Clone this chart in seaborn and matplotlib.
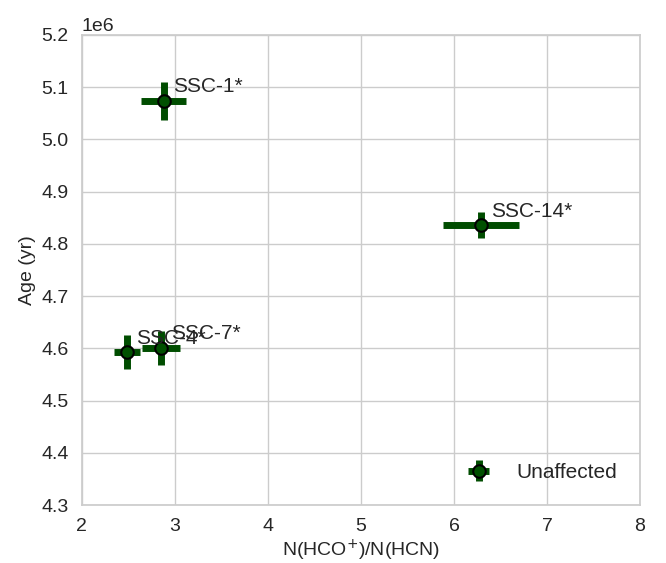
import numpy as np
import matplotlib
matplotlib.use('Agg')
import matplotlib.pyplot as plt
import seaborn as sns

# data
labels = ['SSC-1*', 'SSC-4*', 'SSC-7*', 'SSC-14*']
ratio = [2.88, 2.48, 2.85, 6.29]
ratio_err = [0.24, 0.14, 0.20, 0.41]
age = [5.074e6, 4.593e6, 4.601e6, 4.836e6]
age_err = [0.036e6, 0.033e6, 0.033e6, 0.025e6]

sns.set_theme(style='whitegrid')
plt.rcParams['font.family'] = ['Liberation Sans', 'DejaVu Sans']
plt.rcParams['axes.edgecolor'] = '#cccccc'
plt.rcParams['grid.color'] = '#cccccc'

fig, ax = plt.subplots(figsize=(6.66, 5.63), dpi=100)
ax.errorbar(ratio, age, xerr=ratio_err, yerr=age_err, fmt='o', color='#004d00',
            ecolor='#004d00', elinewidth=5, markersize=9, markerfacecolor='#005000',
            markeredgecolor='black', markeredgewidth=1.5, capsize=0, label='Unaffected')
for lab, x, y in zip(labels, ratio, age):
    ax.annotate(lab, (x, y), xytext=(7, 6), textcoords='offset points', fontsize=15, color='#262626')

ax.set_xlim(2, 8)
ax.set_ylim(4.3e6, 5.2e6)
ax.set_xlabel('N(HCO$^{+}$)/N(HCN)', fontsize=14, labelpad=2)
ax.set_ylabel('Age (yr)', fontsize=14)
ax.tick_params(labelsize=14)
ax.yaxis.get_offset_text().set_fontsize(14)
ax.legend(loc='lower right', fontsize=15, frameon=False, borderpad=0.6)
fig.subplots_adjust(left=0.123, right=0.961, top=0.938, bottom=0.103)
plt.savefig('out.png', dpi=100)
